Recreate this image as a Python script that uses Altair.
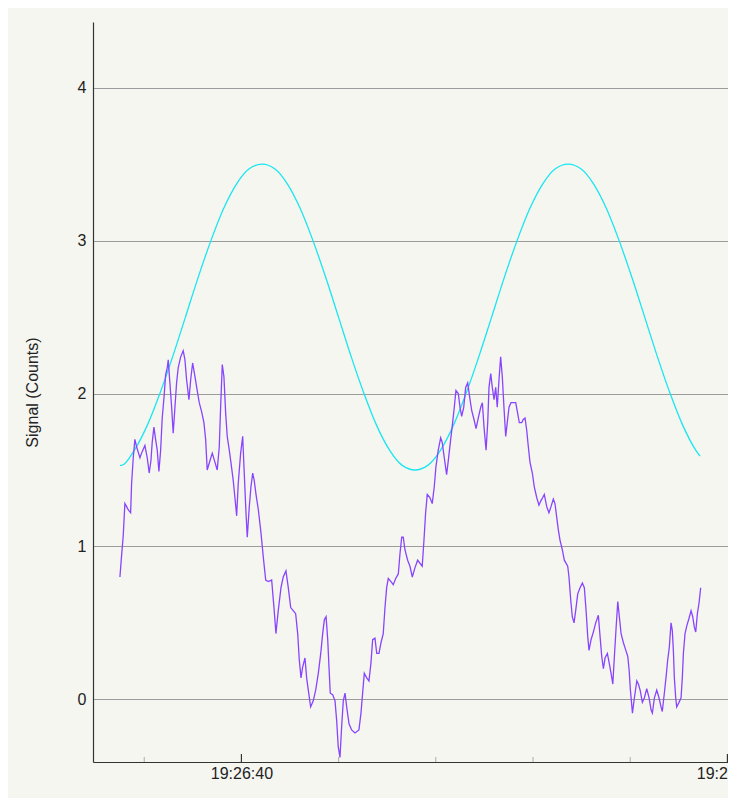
import altair as alt
import pandas as pd

# Time base: 19:26:00 (UTC); all times below are seconds after it
BASE_MS = int(pd.Timestamp("2024-01-01 19:26:00", tz="UTC").value // 10**6)

signal_sec = [
    27.50, 27.67, 27.84, 28.01, 28.19, 28.35, 28.60, 28.70, 28.87, 29.04,
    29.22, 29.56, 29.79, 30.07, 30.31, 30.51, 30.69, 30.82, 31.00, 31.17,
    31.34, 31.51, 31.69, 31.85, 32.03, 32.20, 32.37, 32.47, 32.64, 32.82,
    32.98, 33.16, 33.33, 33.50, 33.75, 34.01, 34.19, 34.36, 34.60, 34.78,
    34.98, 35.22, 35.45, 35.66, 35.91, 36.14, 36.32, 36.48, 36.76, 37.00,
    37.28, 37.51, 37.72, 37.86, 38.03, 38.20, 38.38, 38.54, 38.75, 38.92,
    39.16, 39.33, 39.51, 39.67, 39.92, 40.13, 40.29, 40.47, 40.60, 40.81,
    40.98, 41.16, 41.32, 41.50, 41.74, 42.01, 42.25, 42.50, 42.76, 43.11,
    43.35, 43.55, 43.79, 44.07, 44.30, 44.58, 44.82, 45.07, 45.33, 45.58,
    45.79, 45.95, 46.13, 46.30, 46.54, 46.71, 46.88, 47.12, 47.39, 47.64,
    47.91, 48.16, 48.36, 48.53, 48.71, 48.88, 49.01, 49.14, 49.39, 49.63,
    49.80, 49.96, 50.14, 50.31, 50.48, 50.66, 50.83, 51.07, 51.34, 51.68,
    52.09, 52.30, 52.43, 52.64, 52.89, 53.12, 53.33, 53.50, 53.74, 53.92,
    54.15, 54.36, 54.59, 54.77, 54.94, 55.11, 55.39, 55.62, 55.87, 56.14,
    56.31, 56.49, 56.65, 56.82, 57.10, 57.34, 57.58, 57.85, 58.13, 58.37,
    58.60, 58.78, 58.95, 59.12, 59.39, 59.63, 59.84, 60.01, 60.25, 60.50,
    60.66, 60.87, 61.11, 61.28, 61.53, 61.73, 61.90, 62.07, 62.31, 62.49,
    62.66, 62.87, 63.07, 63.28, 63.52, 63.69, 63.93, 64.14, 64.37, 64.62,
    64.79, 64.96, 65.17, 65.34, 65.47, 65.65, 65.81, 65.99, 66.16, 66.32,
    66.50, 66.67, 66.84, 67.01, 67.19, 67.35, 67.53, 67.73, 67.97, 68.22,
    68.42, 68.59, 68.84, 69.00, 69.18, 69.35, 69.52, 69.69, 69.93, 70.13,
    70.38, 70.61, 70.82, 71.00, 71.16, 71.41, 71.64, 71.85, 72.09, 72.26,
    72.44, 72.60, 72.78, 73.01, 73.22, 73.57, 73.70, 73.88, 74.04, 74.22,
    74.39, 74.60, 74.84, 75.08, 75.28, 75.46, 75.63, 75.76, 75.97, 76.21,
    76.45, 76.72, 76.90, 77.07, 77.24, 77.41, 77.65, 77.86, 78.03, 78.21,
    78.37, 78.55, 78.72, 78.85, 79.06, 79.30, 79.55, 79.75, 79.89, 80.02,
    80.23, 80.43, 80.68, 80.84, 81.02, 81.25, 81.46, 81.70, 81.94, 82.15,
    82.28, 82.49, 82.73, 82.96, 83.17, 83.30, 83.51, 83.68, 83.86, 84.02,
    84.20, 84.33, 84.44, 84.54, 84.68, 84.78, 85.02, 85.23, 85.36, 85.47,
    85.64, 85.82, 86.05, 86.26, 86.43, 86.60, 86.74, 86.91, 87.08, 87.25,
]
signal_val = [
    0.80, 0.94, 1.07, 1.28, 1.26, 1.24, 1.22, 1.41, 1.58, 1.70,
    1.65, 1.58, 1.62, 1.66, 1.58, 1.48, 1.56, 1.68, 1.78, 1.70,
    1.63, 1.49, 1.63, 1.84, 1.97, 2.12, 2.17, 2.22, 2.07, 1.91,
    1.74, 1.91, 2.07, 2.17, 2.24, 2.28, 2.22, 2.09, 1.96, 2.09,
    2.20, 2.11, 2.02, 1.94, 1.88, 1.81, 1.70, 1.50, 1.56, 1.61,
    1.55, 1.50, 1.65, 1.91, 2.19, 2.11, 1.87, 1.72, 1.63, 1.55,
    1.43, 1.32, 1.20, 1.41, 1.61, 1.72, 1.48, 1.22, 1.06, 1.26,
    1.39, 1.48, 1.43, 1.34, 1.24, 1.09, 0.93, 0.78, 0.77, 0.78,
    0.60, 0.43, 0.58, 0.73, 0.80, 0.84, 0.73, 0.60, 0.58, 0.56,
    0.43, 0.26, 0.14, 0.21, 0.27, 0.14, 0.06, -0.05, -0.01, 0.06,
    0.17, 0.30, 0.43, 0.52, 0.54, 0.39, 0.21, 0.04, 0.03, -0.01,
    -0.14, -0.31, -0.38, -0.18, -0.01, 0.04, -0.05, -0.16, -0.20, -0.22,
    -0.20, -0.09, 0.01, 0.17, 0.14, 0.12, 0.24, 0.39, 0.40, 0.30,
    0.30, 0.37, 0.43, 0.60, 0.73, 0.79, 0.77, 0.75, 0.79, 0.82,
    0.95, 1.06, 1.06, 0.98, 0.91, 0.87, 0.80, 0.86, 0.91, 0.89,
    0.87, 1.04, 1.22, 1.34, 1.32, 1.28, 1.39, 1.52, 1.63, 1.71,
    1.68, 1.58, 1.47, 1.56, 1.70, 1.81, 1.91, 2.02, 2.00, 1.91,
    1.85, 1.91, 2.04, 2.07, 1.96, 1.89, 1.83, 1.77, 1.84, 1.91,
    1.94, 1.78, 1.63, 1.81, 2.04, 2.13, 2.04, 1.96, 2.04, 1.91,
    2.09, 2.24, 2.11, 1.91, 1.72, 1.81, 1.91, 1.94, 1.94, 1.94,
    1.87, 1.81, 1.81, 1.83, 1.84, 1.76, 1.65, 1.55, 1.48, 1.39,
    1.32, 1.27, 1.30, 1.32, 1.34, 1.26, 1.22, 1.26, 1.31, 1.28,
    1.19, 1.11, 1.04, 0.98, 0.91, 0.87, 0.80, 0.65, 0.54, 0.50,
    0.58, 0.69, 0.73, 0.76, 0.73, 0.58, 0.41, 0.32, 0.39, 0.44,
    0.50, 0.55, 0.41, 0.28, 0.20, 0.27, 0.30, 0.23, 0.17, 0.10,
    0.28, 0.47, 0.64, 0.56, 0.43, 0.37, 0.32, 0.28, 0.19, 0.06,
    -0.09, 0.01, 0.12, 0.10, 0.06, -0.02, 0.01, 0.07, 0.01, -0.07,
    -0.09, 0.01, 0.06, 0.01, -0.05, -0.08, 0.04, 0.14, 0.26, 0.34,
    0.50, 0.45, 0.32, 0.14, 0.01, -0.05, -0.02, 0.01, 0.14, 0.30,
    0.43, 0.48, 0.53, 0.58, 0.54, 0.47, 0.44, 0.56, 0.63, 0.73,
]

wave_sec = [
    27.50, 27.67, 28.99, 30.30, 31.61, 32.92, 34.24, 35.55, 36.86, 38.17,
    39.49, 40.80, 42.11, 43.42, 44.74, 46.05, 47.36, 48.67, 49.99, 51.30,
    52.61, 53.92, 55.24, 56.55, 57.86, 59.17, 60.49, 61.80, 63.11, 64.42,
    65.74, 67.05, 68.36, 69.67, 70.99, 72.30, 73.61, 74.92, 76.24, 77.55,
    78.86, 80.17, 81.49, 82.80, 84.11, 85.42, 86.74, 87.18,
]
wave_val = [
    1.53, 1.53, 1.63, 1.79, 2.00, 2.24, 2.50, 2.76, 3.00, 3.21,
    3.37, 3.47, 3.50, 3.47, 3.37, 3.21, 3.00, 2.76, 2.50, 2.24,
    2.00, 1.79, 1.63, 1.53, 1.50, 1.53, 1.63, 1.79, 2.00, 2.24,
    2.50, 2.76, 3.00, 3.21, 3.37, 3.47, 3.50, 3.47, 3.37, 3.21,
    3.00, 2.76, 2.50, 2.24, 2.00, 1.79, 1.63, 1.59,
]

major_tick_sec = [40, 90]
minor_tick_sec = [30, 50, 60, 70, 80]
x_domain_sec = [24.73, 90.06]
y_domain = [-0.41, 4.43]
y_ticks = [0, 1, 2, 3, 4]


def to_ms(secs):
    return [BASE_MS + s * 1000.0 for s in secs]


signal_df = pd.DataFrame({"time": to_ms(signal_sec), "value": signal_val})
wave_df = pd.DataFrame({"time": to_ms(wave_sec), "value": wave_val})
major_df = pd.DataFrame({"time": to_ms(major_tick_sec)})
minor_df = pd.DataFrame({"time": to_ms(minor_tick_sec)})

PLOT_W = 635
PLOT_H = 740
FONT = "Liberation Sans"
TEXT = "#222222"

x_scale = alt.Scale(type="utc", domain=to_ms(x_domain_sec), nice=False)
y_scale = alt.Scale(domain=y_domain, nice=False, zero=False)

x_enc = alt.X(
    "time:T",
    scale=x_scale,
    axis=alt.Axis(
        title=None,
        values=to_ms(major_tick_sec),
        labelExpr="utcFormat(datum.value, '%H:%M:%S')",
        ticks=False,
        grid=False,
        domainColor="#333333",
        domainWidth=1.2,
        labelPadding=3,
        labelFlush=False,
        labelOverlap=False,
        labelFontSize=16,
        labelColor=TEXT,
        labelFont=FONT,
    ),
)
y_enc = alt.Y(
    "value:Q",
    scale=y_scale,
    axis=alt.Axis(
        title="Signal (Counts)",
        values=y_ticks,
        format="d",
        ticks=False,
        grid=True,
        gridColor="#9c9c9c",
        gridWidth=1,
        domainColor="#333333",
        domainWidth=1.2,
        labelPadding=7,
        labelFontSize=16,
        labelColor=TEXT,
        labelFont=FONT,
        titleFont=FONT,
        titleFontSize=16,
        titleFontWeight="normal",
        titleColor=TEXT,
        titlePadding=37,
    ),
)

wave = alt.Chart(wave_df).mark_line(
    color="#19e6f0", strokeWidth=1.3, interpolate="monotone"
).encode(x=x_enc, y=y_enc)

signal = alt.Chart(signal_df).mark_line(
    color="#8844ff", strokeWidth=1.3
).encode(x="time:T", y="value:Q")

major_ticks = alt.Chart(major_df).mark_rule(color="#333333", strokeWidth=1.2).encode(
    x="time:T", y=alt.value(PLOT_H - 8), y2=alt.value(PLOT_H)
)
minor_ticks = alt.Chart(minor_df).mark_rule(color="#aaaaaa", strokeWidth=1).encode(
    x="time:T", y=alt.value(PLOT_H - 5), y2=alt.value(PLOT_H)
)

chart = (
    alt.layer(wave, signal, minor_ticks, major_ticks)
    .properties(
        width=PLOT_W,
        height=PLOT_H,
        autosize=alt.AutoSizeParams(type="none"),
        padding={"left": 85, "top": 14, "right": 0, "bottom": 36},
        background="#f6f6f1",
    )
    .configure_view(strokeOpacity=0)
)

chart.save("out.html", embed_options={"renderer": "svg", "actions": False})
